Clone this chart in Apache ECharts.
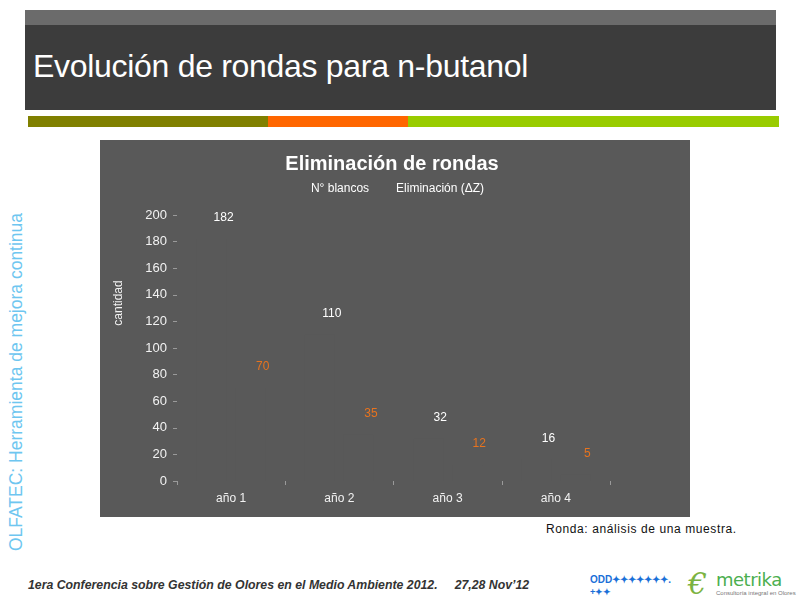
<!DOCTYPE html>
<html>
<head>
<meta charset="utf-8">
<script src="https://cdn.jsdelivr.net/npm/echarts@6/dist/echarts.min.js"></script>
<style>
  html, body { margin: 0; padding: 0; background: #fff; }
  #slide { position: relative; width: 800px; height: 600px; overflow: hidden; font-family: "Liberation Sans", Arial, sans-serif; }
  .abs { position: absolute; }
  #main { position: absolute; left: 100px; top: 140px; width: 590px; height: 377px; }
</style>
</head>
<body>
<div id="slide">
  <div class="abs" style="left:25px;top:10px;width:751px;height:15px;background:#6b6b6b"></div>
  <div class="abs" style="left:25px;top:25px;width:751px;height:85px;background:#3c3c3c"></div>
  <div class="abs" style="left:33px;top:48px;color:#fff;font-size:32px;letter-spacing:-0.3px;white-space:nowrap">Evolución de rondas para n-butanol</div>
  <div class="abs" style="left:28px;top:116px;width:240px;height:11px;background:#808000"></div>
  <div class="abs" style="left:268px;top:116px;width:140px;height:11px;background:#ff6600"></div>
  <div class="abs" style="left:408px;top:116px;width:371px;height:11px;background:#99cc00"></div>
  <div class="abs" style="left:16px;top:382px;transform:translate(-50%,-50%) rotate(-90deg);color:#6ec6f0;font-size:17.5px;white-space:nowrap">OLFATEC: Herramienta de mejora continua</div>
  <div id="main"></div>
  <div class="abs" style="left:546px;top:522px;color:#111;font-size:12px;letter-spacing:0.6px;white-space:nowrap">Ronda: análisis de una muestra.</div>
  <div class="abs" style="left:28px;top:578px;color:#333;font-size:12.3px;font-style:italic;font-weight:bold;font-family:'Liberation Sans Narrow','Liberation Sans',Arial;white-space:pre">1era Conferencia sobre Gestión de Olores en el Medio Ambiente 2012.     27,28 Nov’12</div>
  <div class="abs" style="left:590px;top:574px;color:#1a6fd8;font-size:10px;font-weight:bold;white-space:nowrap">ODD✦✦✦✦✦✦✦.</div>
  <div class="abs" style="left:590px;top:587px;color:#1a6fd8;font-size:9px;font-weight:bold">+✦✦</div>
  <div class="abs" style="left:688px;top:566px;color:#7cb342;font-size:30px;font-style:italic;font-family:'DejaVu Serif',serif">€</div>
  <div class="abs" style="left:716px;top:569px;color:#4caf50;font-size:18px;font-family:'DejaVu Sans',sans-serif;letter-spacing:-0.5px">metrika</div>
  <div class="abs" style="left:716px;top:590px;color:#777;font-size:6px;white-space:nowrap">Consultoría integral en Olores</div>
</div>
<script>
var categories = ['año 1', 'año 2', 'año 3', 'año 4'];
var blancos = [182, 110, 32, 16];
var eliminacion = [70, 35, 12, 5];
var seriesNames = ['N° blancos', 'Eliminación (ΔZ)'];

var bg = '#595959';
var chart = echarts.init(document.getElementById('main'));
chart.setOption({
  backgroundColor: bg,
  animation: false,
  textStyle: { fontFamily: 'Liberation Sans, Arial, sans-serif' },
  title: {
    text: 'Eliminación de rondas',
    left: 287, top: 9,
    textAlign: 'center',
    textStyle: { color: '#fff', fontSize: 20, fontWeight: 'bold' }
  },
  legend: {
    top: 38, left: 'center',
    itemWidth: 0, itemHeight: 0, itemGap: 22,
    textStyle: { color: '#fff', fontSize: 12 },
    data: seriesNames
  },
  grid: { left: 77, right: 80, top: 75, bottom: 36, outerBoundsMode: 'none', containLabel: false },
  xAxis: {
    type: 'category',
    data: categories,
    axisLine: { show: false },
    axisTick: { show: true, length: 4, lineStyle: { color: '#9a9a9a' } },
    axisLabel: { color: '#f2f2f2', fontSize: 12, margin: 12 }
  },
  yAxis: {
    type: 'value',
    min: 0, max: 200, interval: 20,
    name: 'cantidad',
    nameLocation: 'middle',
    nameGap: 52,
    nameRotate: 90,
    nameTextStyle: { color: '#f2f2f2', fontSize: 12, padding: [0, 0, 0, 90] },
    axisLine: { show: false },
    axisTick: { show: true, length: 4, lineStyle: { color: '#9a9a9a' } },
    splitLine: { show: false },
    axisLabel: { color: '#f2f2f2', fontSize: 13, margin: 10 }
  },
  series: [
    {
      name: seriesNames[0], type: 'bar', data: blancos,
      barWidth: 30, barGap: '30%',
      itemStyle: { color: bg },
      label: { show: true, position: 'top', distance: 15, offset: [12, 0], color: '#ffffff', fontSize: 12 }
    },
    {
      name: seriesNames[1], type: 'bar', data: eliminacion,
      barWidth: 30,
      itemStyle: { color: bg },
      label: { show: true, position: 'top', distance: 15, offset: [12, 0], color: '#e8731e', fontSize: 12 }
    }
  ]
});
</script>
</body>
</html>
